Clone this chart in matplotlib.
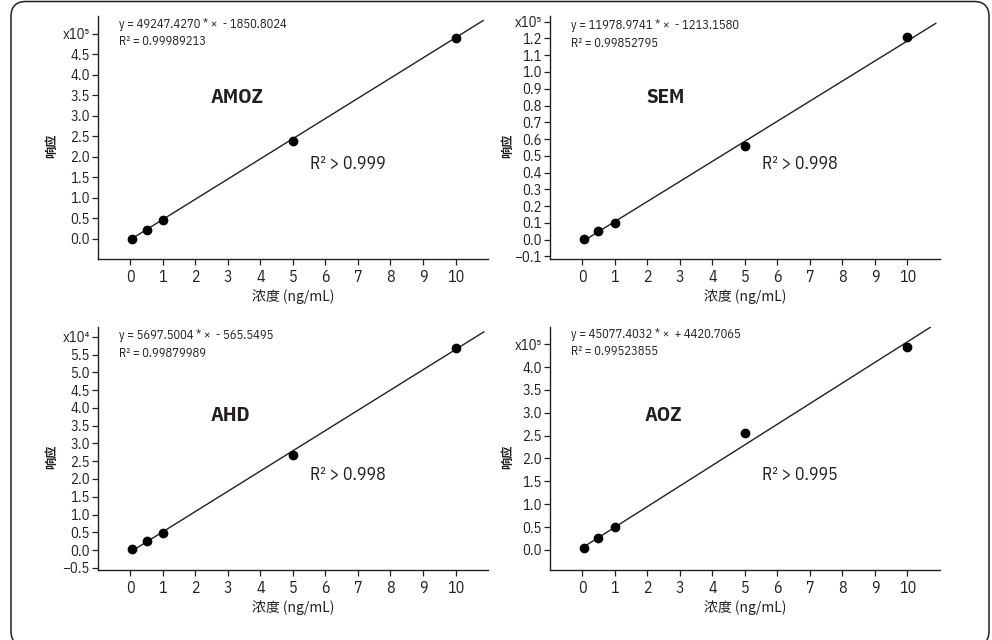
import numpy as np
import matplotlib
matplotlib.use("Agg")
import matplotlib.pyplot as plt
from matplotlib.patches import FancyBboxPatch

FONT = ["IBM Plex Sans Condensed", "Liberation Sans Narrow", "DejaVu Sans"]
CJK = ["Noto Sans CJK SC", "IBM Plex Sans Condensed", "DejaVu Sans"]
INK = "#231f20"
plt.rcParams["font.family"] = FONT

# concentrations (ng/mL) and measured responses
conc = [0.05, 0.5, 1, 5, 10]
amoz = [0, 21000, 45500, 238000, 490500]
sem = [600, 5200, 10100, 55700, 121000]
ahd = [300, 2600, 4700, 26600, 56800]
aoz = [3700, 25600, 50500, 255000, 444600]

names = ["AMOZ", "SEM", "AHD", "AOZ"]
responses = [amoz, sem, ahd, aoz]
slopes = [49247.4270, 11978.9741, 5697.5004, 45077.4032]
intercepts = [-1850.8024, -1213.1580, -565.5495, 4420.7065]
r2_fit = ["0.99989213", "0.99852795", "0.99879989", "0.99523855"]
r2_claim = ["0.999", "0.998", "0.998", "0.995"]
exponents = [5, 5, 4, 5]
ytick_lo = [0.0, -0.1, -0.5, 0.0]
ytick_hi = [5.0, 1.3, 6.0, 4.5]
ytick_step = [0.5, 0.1, 0.5, 0.5]
ylims = [(-0.49, 5.44), (-0.115, 1.335), (-0.56, 6.28), (-0.44, 4.88)]
line_end = [10.85, 10.87, 10.87, 10.7]

fig = plt.figure(figsize=(9.92, 6.4), dpi=100)

# rounded frame around both rows
frame = FancyBboxPatch((0.11, -0.06), 9.78, 6.445,
                       boxstyle="round,pad=0,rounding_size=0.15",
                       transform=fig.dpi_scale_trans, fill=False,
                       ec=INK, lw=1.1, clip_on=False)
fig.patches.append(frame)

W, H = 0.3935, 0.380
boxes = [(0.0985, 0.5953), (0.5541, 0.5953), (0.0985, 0.1094), (0.5541, 0.1094)]
name_pos = [(0.357, 0.665), (0.296, 0.665), (0.339, 0.634), (0.292, 0.634)]
eq_y = [0.965, 0.959, 0.963, 0.969]
ylab_x = [-0.118, -0.108, -0.118, -0.108]

for i in range(4):
    ax = fig.add_axes([boxes[i][0], boxes[i][1], W, H])
    scale = 10.0 ** exponents[i]
    y = np.array(responses[i]) / scale

    xf = np.array([conc[0], line_end[i]])
    yf = (slopes[i] * xf + intercepts[i]) / scale
    ax.plot(xf, yf, color=INK, lw=1.0, zorder=2)
    ax.plot(conc, y, "o", color="black", ms=6, zorder=3)

    ax.set_xlim(-1, 11)
    ax.set_ylim(*ylims[i])
    ax.set_xticks(range(11))
    yt = np.round(np.arange(ytick_lo[i], ytick_hi[i] + 1e-9, ytick_step[i]), 2)
    labels = [f"{v:.1f}".replace("-", "\u2212") for v in yt]
    labels[-1] = "x10" + "\u2074\u2075"[exponents[i] - 4]
    ax.set_yticks(yt, labels)

    for s in ("top", "right"):
        ax.spines[s].set_visible(False)
    for s in ("left", "bottom"):
        ax.spines[s].set_linewidth(1.0)
        ax.spines[s].set_color(INK)
    ax.tick_params(axis="both", direction="out", length=4.5, width=0.9, color=INK)
    ax.tick_params(axis="x", labelsize=11.5, pad=2.5, labelcolor=INK)
    ax.tick_params(axis="y", labelsize=10.5, pad=1.2, labelcolor=INK)

    ax.text(0.054, eq_y[i],
            f"y = {slopes[i]:.4f} * \u00d7  {'+' if intercepts[i] > 0 else '-'} {abs(intercepts[i]):.4f}",
            transform=ax.transAxes, fontsize=9, color=INK, va="center", ha="left")
    ax.text(0.054, eq_y[i] - 0.071, f"R\u00b2 = {r2_fit[i]}",
            transform=ax.transAxes, fontsize=9, color=INK, va="center", ha="left")

    ax.text(name_pos[i][0], name_pos[i][1], names[i], transform=ax.transAxes,
            fontsize=15, fontweight="bold", color=INK, ha="center", va="center")
    ax.text(0.545, 0.39, f"R\u00b2 > {r2_claim[i]}", transform=ax.transAxes,
            fontsize=12.8, color=INK, ha="left", va="center")

    ax.text(0.5, -0.155, "浓度 (ng/mL)", transform=ax.transAxes, family=CJK,
            fontsize=10, color=INK, ha="center", va="center")
    ax.text(ylab_x[i], 0.465, "响应", transform=ax.transAxes, family=CJK,
            fontsize=8.8, fontweight="bold", color=INK, rotation=90,
            ha="center", va="center")

fig.savefig("out.png", dpi=100)
